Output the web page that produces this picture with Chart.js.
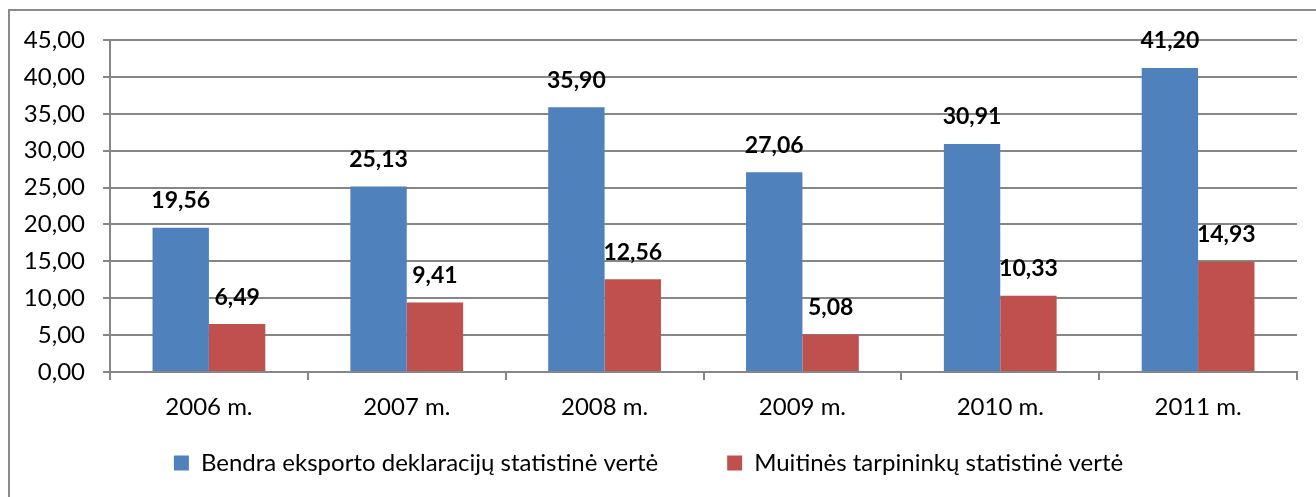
<!DOCTYPE html>
<html>
<head>
<meta charset="utf-8">
<script src="https://cdn.jsdelivr.net/npm/chart.js@4.4.1/dist/chart.umd.min.js"></script>
<style>
  html, body { margin: 0; padding: 0; background: #fff; }
  #wrap { width: 1316px; height: 497px; }
</style>
</head>
<body>
<div id="wrap"><canvas id="c" width="1316" height="497"></canvas></div>
<script>
const years = ['2006 m.', '2007 m.', '2008 m.', '2009 m.', '2010 m.', '2011 m.'];
const bendra = [19.56, 25.13, 35.90, 27.06, 30.91, 41.20];
const muitines = [6.49, 9.41, 12.56, 5.08, 10.33, 14.93];
const seriesNames = ['Bendra eksporto deklaracijų statistinė vertė', 'Muitinės tarpininkų statistinė vertė'];

const FONT = 'Lato, "Open Sans", sans-serif';
const fmt = v => v.toFixed(2).replace('.', ',');

// outer frame of the chart object (only left and top edges are inside the picture)
const framePlugin = {
    id: 'frame',
    beforeDraw(chart) {
        const ctx = chart.ctx;
        ctx.save();
        ctx.strokeStyle = '#8a8a8a';
        ctx.lineWidth = 2;
        ctx.strokeRect(9, 10, 1400, 600);
        ctx.restore();
    }
};

// bold value labels above every bar
const valueLabels = {
    id: 'valueLabels',
    afterDatasetsDraw(chart) {
        const ctx = chart.ctx;
        ctx.save();
        ctx.font = 'bold 23px ' + FONT;
        ctx.fillStyle = '#000';
        ctx.textAlign = 'center';
        ctx.textBaseline = 'middle';
        chart.data.datasets.forEach((ds, i) => {
            chart.getDatasetMeta(i).data.forEach((bar, j) => {
                ctx.fillText(fmt(ds.data[j]), bar.x, bar.y - 27);
            });
        });
        ctx.restore();
    }
};

new Chart(document.getElementById('c'), {
    type: 'bar',
    data: {
        labels: years,
        datasets: [
            { label: seriesNames[0], data: bendra, backgroundColor: '#4F81BD' },
            { label: seriesNames[1], data: muitines, backgroundColor: '#C0504D' }
        ]
    },
    options: {
        responsive: false,
        animation: false,
        events: [],
        layout: { padding: { top: 40, right: 19, left: 0, bottom: 12 } },
        datasets: { bar: { categoryPercentage: 0.57, barPercentage: 1 } },
        scales: {
            x: {
                grid: { offset: true, drawOnChartArea: false, drawTicks: true, tickLength: 8, color: '#868686', lineWidth: 2 },
                border: { color: '#868686', width: 2 },
                ticks: { color: '#000', font: { family: FONT, size: 24 }, padding: 13, maxRotation: 0 },
                afterFit(scale) {
                    // the legend sits close under the axis: keep the box short but let the labels draw below it
                    scale.height = 10;
                    scale._computeLabelArea = () => undefined;
                }
            },
            y: {
                min: 0,
                max: 45,
                grid: { color: '#868686', lineWidth: 2, tickLength: 7 },
                border: { color: '#868686', width: 2 },
                ticks: { stepSize: 5, color: '#000', font: { family: FONT, size: 24 }, padding: 18, callback: v => fmt(v) },
                afterFit(scale) { scale.width = 110; }
            }
        },
        plugins: {
            legend: {
                position: 'bottom',
                labels: { color: '#000', font: { family: FONT, size: 24 }, boxWidth: 15, boxHeight: 15, padding: 69 }
            },
            tooltip: { enabled: false }
        }
    },
    plugins: [framePlugin, valueLabels]
});
</script>
</body>
</html>
